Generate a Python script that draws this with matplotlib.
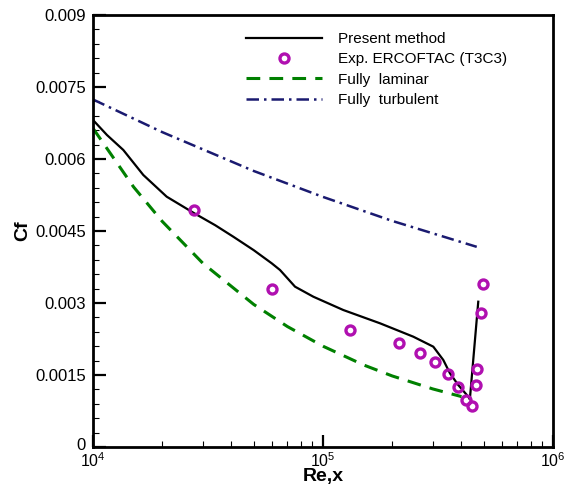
import matplotlib
matplotlib.use("Agg")
import matplotlib.pyplot as plt
from matplotlib.ticker import FixedLocator, LogLocator, NullFormatter, FixedFormatter
from matplotlib.transforms import ScaledTranslation

plt.rcParams['font.family'] = ['Liberation Sans', 'DejaVu Sans']
plt.rcParams['mathtext.fontset'] = 'custom'
plt.rcParams['mathtext.rm'] = 'Liberation Sans'
plt.rcParams['mathtext.it'] = 'Liberation Sans:italic'
plt.rcParams['mathtext.bf'] = 'Liberation Sans:bold'

# Present method (solid black)
present_x = [1.0e4, 1.15e4, 1.3545e4, 1.6546e4, 2.091e4, 2.757e4, 3.4e4, 4.074e4, 5.0e4,
             5.984e4, 6.501e4, 7.558e4, 9.078e4, 1.225e5, 1.77e5, 2.47e5, 3.017e5,
             3.334e5, 3.565e5, 3.873e5, 4.283e5, 4.35e5, 4.732e5]
present_y = [0.006813, 0.006500, 0.006188, 0.005667, 0.005215, 0.004869, 0.004620, 0.004381,
             0.004100, 0.003827, 0.003688, 0.00334, 0.003131, 0.002854, 0.002577, 0.002298,
             0.00209, 0.001813, 0.001535, 0.001292, 0.001048, 0.000993, 0.003027]

# Experiment ERCOFTAC T3C3
exp_x = [2.757e4, 6.022e4, 1.306e5, 2.14e5, 2.633e5, 3.077e5, 3.506e5, 3.864e5,
         4.198e5, 4.457e5, 4.642e5, 4.69e5, 4.879e5, 4.947e5]
exp_y = [0.004938, 0.003285, 0.002438, 0.002173, 0.001965, 0.001764, 0.001521, 0.00125,
         0.000972, 0.000854, 0.00129, 0.00163, 0.002785, 0.003396]

# Fully laminar (green dashed)
lam_x = [1.0e4, 1.5e4, 2.0e4, 3.0e4, 5.0e4, 7.0e4, 1.0e5, 1.5e5, 2.0e5, 3.0e5, 4.0e5]
lam_y = [0.00664, 0.00542, 0.00470, 0.00383, 0.00297, 0.00251, 0.00210, 0.00171,
         0.00148, 0.00121, 0.00105]

# Fully turbulent (navy dash-dot)
turb_x = [1.0e4, 2.0e4, 5.0e4, 1.0e5, 2.0e5, 4.66e5]
turb_y = [0.00724, 0.00656, 0.00575, 0.00521, 0.00471, 0.00417]

y_ticks = [0, 0.0015, 0.003, 0.0045, 0.006, 0.0075, 0.009]
y_tick_labels = ['0', '0.0015', '0.003', '0.0045', '0.006', '0.0075', '0.009']
x_ticks = [1e4, 1e5, 1e6]
x_tick_labels = [r'$10^{4}$', r'$10^{5}$', r'$10^{6}$']

fig = plt.figure(figsize=(5.69, 4.86), dpi=100)
ax = fig.add_axes([93/569, 39/486, (553-93)/569, (447-15)/486])

ax.plot(present_x, present_y, color='black', lw=1.6, label='Present method')
ax.plot(exp_x, exp_y, linestyle='none', marker='o', markersize=6.5, markerfacecolor='none',
        markeredgecolor='#b010b0', markeredgewidth=2.4, label='Exp. ERCOFTAC (T3C3)')
ax.plot(lam_x, lam_y, color='#008000', lw=2.2, linestyle=(0, (4.5, 3)), label='Fully  laminar')
ax.plot(turb_x, turb_y, color='#1a1a70', lw=1.8, linestyle=(0, (5, 2, 1, 2)), label='Fully  turbulent')

ax.set_xscale('log')
ax.set_xlim(1e4, 1e6)
ax.set_ylim(0, 0.009)

ax.xaxis.set_major_locator(FixedLocator(x_ticks))
ax.xaxis.set_major_formatter(FixedFormatter(x_tick_labels))
ax.xaxis.set_minor_locator(LogLocator(base=10, subs=range(2, 10)))
ax.xaxis.set_minor_formatter(NullFormatter())
ax.yaxis.set_major_locator(FixedLocator(y_ticks))
ax.yaxis.set_major_formatter(FixedFormatter(y_tick_labels))
ax.yaxis.set_minor_locator(FixedLocator([i * 0.0003 for i in range(31)]))

ax.tick_params(which='major', direction='in', length=9, width=1.6,
               top=False, right=False)
ax.tick_params(axis='y', which='major', pad=5, labelsize=12)
ax.tick_params(axis='x', which='major', pad=3, labelsize=11.5)
ax.tick_params(which='minor', direction='in', length=4.5, width=0.8, top=False, right=False)
for s in ax.spines.values():
    s.set_linewidth(2)

ax.set_xlabel('Re,x', fontsize=14, fontweight='bold', labelpad=-1)
ax.set_ylabel('Cf', fontsize=14, fontweight='bold', labelpad=3)

leg = fig.legend(loc='upper left', bbox_to_anchor=(246/569, 1 - 32/486), frameon=False,
                 fontsize=11, handlelength=5.0, handletextpad=1.0, labelspacing=0.42,
                 borderpad=0, borderaxespad=0, numpoints=1)

fig.canvas.draw()
zero_label = ax.yaxis.get_major_ticks()[0].label1
zero_label.set_transform(zero_label.get_transform() +
                         ScaledTranslation(0, 2.5/72, fig.dpi_scale_trans))

fig.savefig('out.png', dpi=100)
